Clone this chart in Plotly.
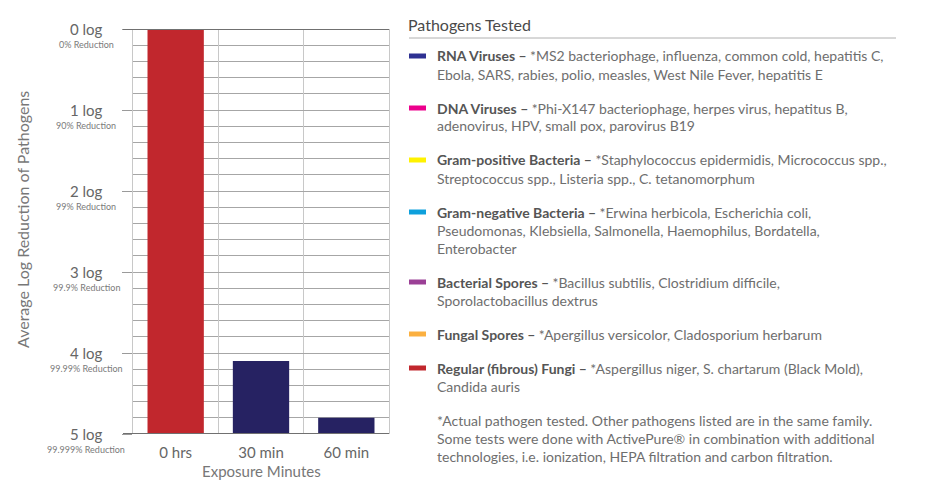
import plotly.graph_objects as go

# ---------------- data ----------------
categories = ["0 hrs", "30 min", "60 min"]
log_reduction = [0.0, 4.1, 4.8]          # average log reduction reached
bar_colors = ["#c1272d", "#262262", "#262262"]
axis_floor = 5                           # bars are drawn from the 5-log floor up to the value

tick_values = [0, 1, 2, 3, 4, 5]
tick_labels = ["0 log", "1 log", "2 log", "3 log", "4 log", "5 log"]
tick_subs = ["0% Reduction", "90% Reduction", "99% Reduction", "99.9% Reduction",
             "99.99% Reduction", "99.999% Reduction"]

legend_names = ["RNA Viruses", "DNA Viruses", "Gram-positive Bacteria", "Gram-negative Bacteria",
                "Bacterial Spores", "Fungal Spores", "Regular (fibrous) Fungi"]
legend_lines = [
    ["*MS2 bacteriophage, influenza, common cold, hepatitis C,",
     "Ebola, SARS, rabies, polio, measles, West Nile Fever, hepatitis E"],
    ["*Phi-X147 bacteriophage, herpes virus, hepatitus B,",
     "adenovirus, HPV, small pox, parovirus B19"],
    ["*Staphylococcus epidermidis, Micrococcus spp.,",
     "Streptococcus spp., Listeria spp., C. tetanomorphum"],
    ["*Erwina herbicola, Escherichia coli,",
     "Pseudomonas, Klebsiella, Salmonella, Haemophilus, Bordatella,",
     "Enterobacter"],
    ["*Bacillus subtilis, Clostridium difficile,",
     "Sporolactobacillus dextrus"],
    ["*Apergillus versicolor, Cladosporium herbarum"],
    ["*Aspergillus niger, S. chartarum (Black Mold),",
     "Candida auris"],
]
legend_colors = ["#2e3192", "#ec008c", "#fff200", "#0ea0dc", "#9b4096", "#fbb040", "#c1272d"]
footnote_lines = [
    "*Actual pathogen tested. Other pathogens listed are in the same family.",
    "Some tests were done with ActivePure® in combination with additional",
    "technologies, i.e. ionization, HEPA filtration and carbon filtration.",
]

# ---------------- layout geometry ----------------
W, H = 945, 485
L, R, T, B = 133, 389, 29, 434
PW, PH = R - L, B - T
FONT = "Lato, 'Open Sans', sans-serif"


def px_x(px):
    return (px - L) / PW


def px_y(py):
    return (B - py) / PH


fig = go.Figure()
fig.add_trace(go.Bar(
    x=categories,
    y=[axis_floor - v for v in log_reduction],
    base=log_reduction,
    marker=dict(color=bar_colors, line=dict(width=0)),
    hoverinfo="skip",
))

annotations = []
shapes = []

# y tick labels (two-level)
for v, lab, sub in zip(tick_values, tick_labels, tick_subs):
    annotations.append(dict(x=px_x(86), y=v, xref="paper", yref="y", text=lab,
                            showarrow=False, xanchor="center", yanchor="middle",
                            font=dict(family=FONT, size=15, color="#666666")))
    annotations.append(dict(x=px_x(86), y=v, xref="paper", yref="y", text=sub,
                            showarrow=False, xanchor="center", yanchor="middle", yshift=-15,
                            font=dict(family=FONT, size=9, color="#7a7a7a")))

# axis titles
annotations.append(dict(x=px_x(22), y=px_y(220), xref="paper", yref="paper",
                        text="Average Log Reduction of Pathogens", textangle=-90,
                        showarrow=False, xanchor="center", yanchor="middle",
                        font=dict(family=FONT, size=16, color="#777777")))
annotations.append(dict(x=px_x(261), y=px_y(471), xref="paper", yref="paper",
                        text="Exposure Minutes", showarrow=False,
                        xanchor="center", yanchor="middle",
                        font=dict(family=FONT, size=15, color="#777777")))

# top and bottom frame lines (extend over tick area)
for v in (tick_values[0], tick_values[-1]):
    shapes.append(dict(type="line", xref="paper", yref="y", x0=px_x(123), x1=1, y0=v, y1=v,
                       line=dict(color="#707070", width=2)))

# legend block
TX = 435
annotations.append(dict(x=px_x(406), y=px_y(25), xref="paper", yref="paper",
                        text="Pathogens Tested", showarrow=False, xanchor="left", yanchor="middle",
                        font=dict(family=FONT, size=16, color="#4a4a4a")))
shapes.append(dict(type="line", xref="paper", yref="paper", x0=px_x(409), x1=px_x(896),
                   y0=px_y(38), y1=px_y(38), line=dict(color="#b0b0b0", width=1)))

y = 56
for name, lines, col in zip(legend_names, legend_lines, legend_colors):
    shapes.append(dict(type="rect", xref="paper", yref="paper", x0=px_x(409), x1=px_x(426),
                       y0=px_y(y - 2.5), y1=px_y(y + 2.5), fillcolor=col, line=dict(width=0)))
    for i, ln in enumerate(lines):
        txt = ln if i else f"<b><span style='color:#555555'>{name} – </span></b>{ln}"
        annotations.append(dict(x=px_x(TX), y=px_y(y + 18 * i), xref="paper", yref="paper",
                                text=txt, showarrow=False, xanchor="left", yanchor="middle",
                                font=dict(family=FONT, size=14, color="#6e6e6e")))
    y += 18 * (len(lines) - 1) + 34

for i, ln in enumerate(footnote_lines):
    annotations.append(dict(x=px_x(TX), y=px_y(y + 18 * i), xref="paper", yref="paper",
                            text=ln, showarrow=False, xanchor="left", yanchor="middle",
                            font=dict(family=FONT, size=14, color="#6e6e6e")))

fig.update_layout(
    width=W, height=H,
    margin=dict(l=L, r=W - R, t=T, b=H - B, autoexpand=False),
    paper_bgcolor="white", plot_bgcolor="white",
    showlegend=False,
    bargap=0.34,
    font=dict(family=FONT, color="#666666"),
    annotations=annotations,
    shapes=shapes,
)
fig.update_xaxes(
    type="category", tickson="boundaries", showgrid=True, gridcolor="#c8c8c8", gridwidth=1,
    ticks="", showline=False, zeroline=False, ticklabelstandoff=8,
    tickfont=dict(family=FONT, size=15, color="#666666"),
)
fig.update_yaxes(
    range=[axis_floor, 0], tickvals=tick_values, showticklabels=False,
    ticks="outside", ticklen=10, tickcolor="#9a9a9a", tickwidth=1,
    showgrid=True, gridcolor="#a6a6a6", gridwidth=1, zeroline=False,
    minor=dict(dtick=0.2, showgrid=True, gridcolor="#a6a6a6", gridwidth=1, ticks=""),
    showline=True, linecolor="#c8c8c8", linewidth=1, mirror=True,
)

fig.write_html("out.html", config={"displayModeBar": False},
               post_script="document.body.style.margin='0';document.body.style.overflow='hidden';")
